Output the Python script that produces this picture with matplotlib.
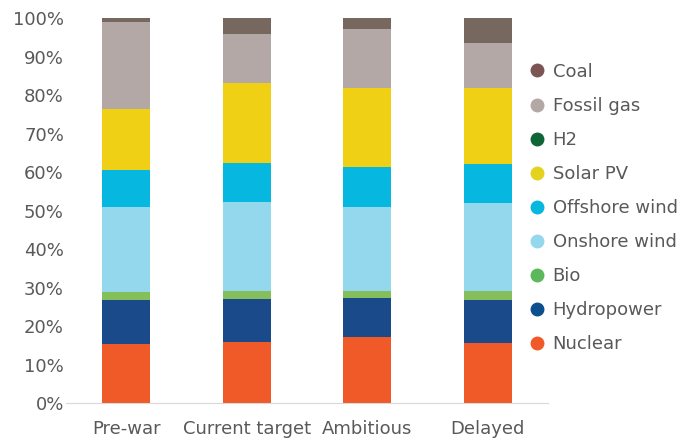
import matplotlib.pyplot as plt
from matplotlib.lines import Line2D
import numpy as np

plt.rcParams['font.family'] = ['DejaVu Sans']

scenarios = ["Pre-war", "Current target", "Ambitious", "Delayed"]

# shares in % (bottom to top)
nuclear    = [15.3, 16.0, 17.1, 15.6]
hydropower = [11.5, 11.1, 10.3, 11.2]
bio        = [2.1, 2.0, 1.8, 2.3]
onshore    = [22.2, 23.1, 21.9, 22.9]
offshore   = [9.4, 10.2, 10.4, 10.2]
solar      = [15.9, 20.7, 20.3, 19.8]
h2         = [0.0, 0.0, 0.0, 0.0]
fossil_gas = [22.7, 12.8, 15.4, 11.7]
coal       = [0.9, 4.1, 2.8, 6.3]

series = [
    ("Nuclear", nuclear, "#f05a28", "#f05a28"),
    ("Hydropower", hydropower, "#1b4a8a", "#0b4f8c"),
    ("Bio", bio, "#84bf5c", "#5cb85c"),
    ("Onshore wind", onshore, "#94d8ee", "#94d8ee"),
    ("Offshore wind", offshore, "#06b7df", "#06b7df"),
    ("Solar PV", solar, "#f0d015", "#e3d21e"),
    ("H2", h2, "#0e6637", "#0e6637"),
    ("Fossil gas", fossil_gas, "#b3a8a6", "#b3a8a6"),
    ("Coal", coal, "#76675f", "#7b5553"),
]

fig = plt.figure(figsize=(6.93, 4.48), dpi=100)
ax = fig.add_axes([0.0952, 0.1, 0.6956, 0.859])

x = np.arange(len(scenarios))
bottom = np.zeros(len(scenarios))
for name, vals, col, _ in series:
    v = np.array(vals)
    ax.bar(x, v, 0.4, bottom=bottom, color=col, linewidth=0)
    bottom += v

ax.set_xlim(-0.5, 3.5)
ax.set_ylim(0, 100)
ax.set_yticks(np.arange(0, 101, 10))
ax.set_yticklabels([f"{t}%" for t in range(0, 101, 10)])
ax.set_xticks(x)
ax.set_xticklabels(scenarios)
ax.tick_params(axis='both', length=0, labelsize=13, colors="#595959")
ax.tick_params(axis='x', pad=12)
ax.tick_params(axis='y', pad=1.5)
for s in ["top", "right", "left"]:
    ax.spines[s].set_visible(False)
ax.spines["bottom"].set_color("#d9d9d9")

handles = [Line2D([], [], marker='o', linestyle='', markersize=9,
                  markerfacecolor=lc, markeredgecolor=lc, label=name)
           for name, _, _, lc in reversed(series)]
leg = fig.legend(handles=handles, loc="upper left", bbox_to_anchor=(0.748, 0.876),
                 frameon=False, fontsize=13, handletextpad=0.2, handlelength=1.3,
                 labelspacing=0.89, borderaxespad=0)
for t in leg.get_texts():
    t.set_color("#595959")

fig.savefig("out.png", dpi=100)
